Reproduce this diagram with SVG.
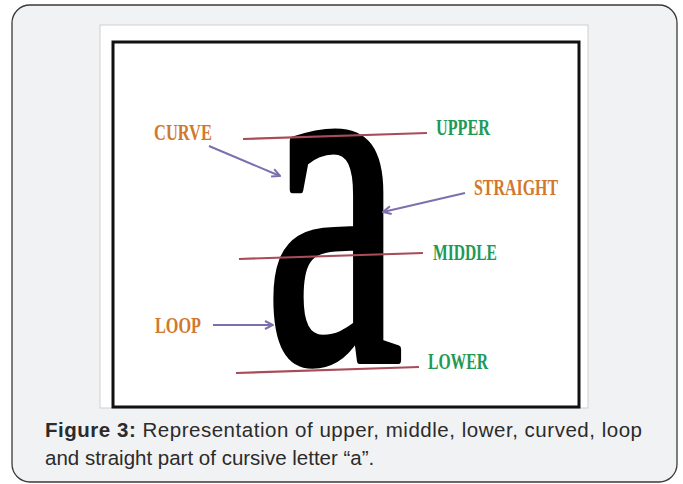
<svg xmlns="http://www.w3.org/2000/svg" width="683" height="484" viewBox="0 0 683 484">
<style>
.lbl{font-family:"Liberation Serif","DejaVu Serif",serif;font-weight:bold;font-size:23px}
.or{fill:#d2782c}
.gr{fill:#1c9a56}
.ln{stroke:#a84c5a;stroke-width:2.2;fill:none}
.ar{stroke:#7d6fae;stroke-width:2;fill:none;marker-end:url(#ah)}
.cap{font-family:"Liberation Sans",Arial,sans-serif;font-size:20.5px;fill:#2b2b2b}
</style>
<defs>
<marker id="ah" viewBox="0 0 10 10" markerWidth="10" markerHeight="10" refX="9" refY="5" orient="auto" markerUnits="userSpaceOnUse">
<path d="M1,1 L9,5 L1,9" fill="none" stroke="#7d6fae" stroke-width="2"/>
</marker>
</defs>
<rect x="12" y="5" width="665" height="477" rx="18" fill="#f1f2f4" stroke="#3a3a3a" stroke-width="1.3"/>
<g id="figure">
<rect x="100" y="25" width="488" height="383" fill="#ffffff" stroke="#cfcfcf" stroke-width="1"/>
<rect x="113" y="42" width="466" height="365" fill="none" stroke="#111" stroke-width="3"/>
<g id="letter">
<text transform="translate(265,360) scale(0.64,1)" font-family="Liberation Serif, serif" font-size="485" fill="#000" stroke="#000" stroke-width="8" stroke-linejoin="round">a</text>
</g>
</g>
<g id="guides">
<line class="ln" x1="243" y1="139" x2="427" y2="133"/>
<line class="ln" x1="239" y1="259" x2="423" y2="253"/>
<line class="ln" x1="236" y1="373" x2="419" y2="367"/>
</g>
<g id="connectors">
<line class="ar" x1="209" y1="146" x2="280" y2="176"/>
<line class="ar" x1="465" y1="193" x2="383" y2="212"/>
<line class="ar" x1="213" y1="325" x2="273" y2="325"/>
</g>
<g id="curve"><text class="lbl or" x="154" y="140" textLength="58" lengthAdjust="spacingAndGlyphs">CURVE</text></g>
<g id="upper"><text class="lbl gr" x="436" y="135" textLength="54" lengthAdjust="spacingAndGlyphs">UPPER</text></g>
<g id="straight"><text class="lbl or" x="474" y="195" textLength="84" lengthAdjust="spacingAndGlyphs">STRAIGHT</text></g>
<g id="middle"><text class="lbl gr" x="433" y="260" textLength="64" lengthAdjust="spacingAndGlyphs">MIDDLE</text></g>
<g id="loop"><text class="lbl or" x="155" y="333" textLength="46" lengthAdjust="spacingAndGlyphs">LOOP</text></g>
<g id="lower"><text class="lbl gr" x="428" y="369" textLength="60" lengthAdjust="spacingAndGlyphs">LOWER</text></g>
<g id="caption">
<text class="cap" x="45" y="437" textLength="597" lengthAdjust="spacing"><tspan font-weight="bold">Figure 3:</tspan> Representation of upper, middle, lower, curved, loop</text>
<text class="cap" x="45" y="465">and straight part of cursive letter “a”.</text>
</g>
</svg>
